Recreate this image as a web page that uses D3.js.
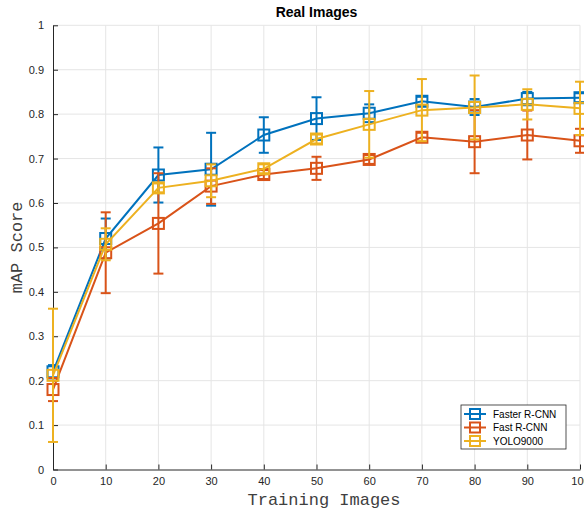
<!DOCTYPE html>
<html>
<head>
<meta charset="utf-8">
<script src="https://cdn.jsdelivr.net/npm/d3@7"></script>
<style>
  body { margin: 0; background: #fff; }
  svg { display: block; }
</style>
</head>
<body>
<script>
// training set sizes
const trainingImages = [0, 10, 20, 30, 40, 50, 60, 70, 80, 90, 100];

const fasterRcnn    = [0.220, 0.520, 0.663, 0.676, 0.753, 0.790, 0.802, 0.829, 0.816, 0.835, 0.837];
const fasterRcnnErr = [0.015, 0.045, 0.062, 0.082, 0.040, 0.048, 0.020, 0.010, 0.018, 0.015, 0.010];
const fastRcnn      = [0.180, 0.488, 0.554, 0.638, 0.664, 0.678, 0.698, 0.748, 0.738, 0.753, 0.740];
const fastRcnnErr   = [0.026, 0.091, 0.113, 0.040, 0.010, 0.026, 0.010, 0.010, 0.071, 0.055, 0.027];
const yolo9000      = [0.212, 0.507, 0.634, 0.650, 0.677, 0.744, 0.777, 0.809, 0.815, 0.822, 0.813];
const yolo9000Err   = [0.150, 0.036, 0.010, 0.037, 0.010, 0.010, 0.075, 0.070, 0.072, 0.034, 0.060];

const seriesNames = ["Faster R-CNN", "Fast R-CNN", "YOLO9000"];
const xTicks = d3.range(0, 101, 10);
const yTicks = d3.range(0, 1.01, 0.1);

const series = [
  { name: seriesNames[0], values: fasterRcnn, errs: fasterRcnnErr, color: "#0072BD" },
  { name: seriesNames[1], values: fastRcnn, errs: fastRcnnErr, color: "#D95319" },
  { name: seriesNames[2], values: yolo9000, errs: yolo9000Err, color: "#EDB120" }
];

const width = 584, height = 511;
const margin = { top: 25.3, right: 4, bottom: 41.5, left: 53 };

const x = d3.scaleLinear().domain([0, 100]).range([margin.left, width - margin.right]);
const y = d3.scaleLinear().domain([0, 1]).range([height - margin.bottom, margin.top]);

const svg = d3.create("svg")
  .attr("width", width)
  .attr("height", height)
  .style("font-family", "'Liberation Sans', Arial, sans-serif");

// grid
const grid = svg.append("g").attr("stroke", "#e5e5e5").attr("stroke-width", 1);
grid.selectAll("line.gx").data(xTicks.slice(1)).join("line")
  .attr("x1", d => x(d)).attr("x2", d => x(d))
  .attr("y1", y(0)).attr("y2", y(1));
grid.selectAll("line.gy").data(yTicks.slice(1)).join("line")
  .attr("x1", x(0)).attr("x2", x(100))
  .attr("y1", d => y(d)).attr("y2", d => y(d));

// axes, ticks pointing inward like matlab
const gx = svg.append("g")
  .attr("transform", `translate(0,${y(0)})`)
  .call(d3.axisBottom(x).tickValues(xTicks).tickSize(-5).tickPadding(8).tickSizeOuter(0));
const gy = svg.append("g")
  .attr("transform", `translate(${x(0)},0)`)
  .call(d3.axisLeft(y).tickValues(yTicks).tickSize(-5).tickPadding(9).tickSizeOuter(0)
    .tickFormat(d => d3.format("~g")(+d.toFixed(1))));
for (const g of [gx, gy]) {
  g.selectAll("path, line").attr("stroke", "#262626").attr("stroke-width", 1);
  g.selectAll("text").attr("fill", "#262626").style("font-size", "11px")
    .style("font-family", "'Liberation Sans', Arial, sans-serif");
}

// series: error bars, line, square markers
const cap = 5, sq = 11;
for (const s of series) {
  const g = svg.append("g").attr("stroke", s.color).attr("stroke-width", 2).attr("fill", "none");
  const pts = trainingImages.map((t, i) => ({ t, v: s.values[i], e: s.errs[i] }));
  const eb = g.selectAll("g.eb").data(pts).join("g");
  eb.append("line")
    .attr("x1", d => x(d.t)).attr("x2", d => x(d.t))
    .attr("y1", d => y(d.v - d.e)).attr("y2", d => y(d.v + d.e));
  eb.append("line")
    .attr("x1", d => x(d.t) - cap).attr("x2", d => x(d.t) + cap)
    .attr("y1", d => y(d.v + d.e)).attr("y2", d => y(d.v + d.e));
  eb.append("line")
    .attr("x1", d => x(d.t) - cap).attr("x2", d => x(d.t) + cap)
    .attr("y1", d => y(d.v - d.e)).attr("y2", d => y(d.v - d.e));
  g.append("path")
    .attr("d", d3.line().x(d => x(d.t)).y(d => y(d.v))(pts));
  g.selectAll("rect").data(pts).join("rect")
    .attr("x", d => x(d.t) - sq / 2).attr("y", d => y(d.v) - sq / 2)
    .attr("width", sq).attr("height", sq);
}

// title and labels
svg.append("text")
  .attr("x", (x(0) + x(100)) / 2).attr("y", 17)
  .attr("text-anchor", "middle")
  .style("font-weight", "bold").style("font-size", "14px")
  .attr("fill", "#000")
  .text("Real Images");

const mono = "'Liberation Mono', 'Courier New', monospace";
svg.append("text")
  .attr("x", 324).attr("y", 505)
  .attr("text-anchor", "middle")
  .style("font-family", mono)
  .style("font-size", "17px").attr("fill", "#404040")
  .text("Training Images");

svg.append("text")
  .attr("transform", `translate(22,${(y(0) + y(1)) / 2}) rotate(-90)`)
  .attr("text-anchor", "middle")
  .style("font-family", mono)
  .style("font-size", "17px").attr("fill", "#404040")
  .text("mAP Score");

// legend
const lg = svg.append("g").attr("transform", "translate(461,405)");
lg.append("rect").attr("width", 105).attr("height", 44)
  .attr("fill", "#fff").attr("stroke", "#262626").attr("stroke-width", 0.8);
series.forEach((s, i) => {
  const row = lg.append("g").attr("transform", `translate(0,${9 + i * 13.5})`);
  row.append("line").attr("x1", 3).attr("x2", 25).attr("stroke", s.color).attr("stroke-width", 2);
  row.append("rect").attr("x", 14 - 5).attr("y", -5).attr("width", 10).attr("height", 10)
    .attr("fill", "none").attr("stroke", s.color).attr("stroke-width", 2);
  row.append("text").attr("x", 32).attr("y", 3.5)
    .style("font-size", "10px").attr("fill", "#000").text(s.name);
});

document.body.appendChild(svg.node());
</script>
</body>
</html>
